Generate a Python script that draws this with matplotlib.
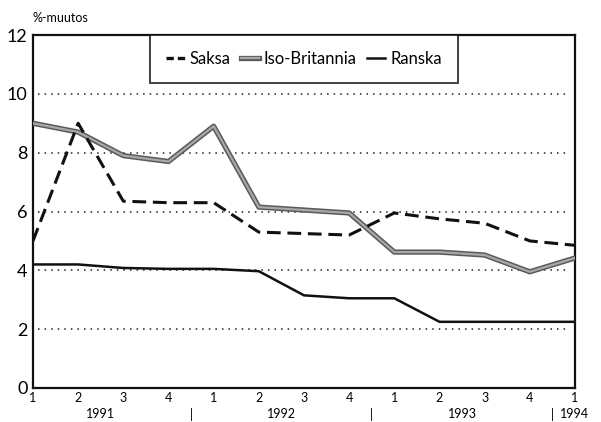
import matplotlib
matplotlib.use("Agg")
import matplotlib.pyplot as plt
import matplotlib.patheffects as pe
from matplotlib.lines import Line2D

quarters = ["1", "2", "3", "4", "1", "2", "3", "4", "1", "2", "3", "4", "1"]
years = ["1991", "1992", "1993", "1994"]
saksa = [5.0, 9.0, 6.35, 6.3, 6.3, 5.3, 5.25, 5.2, 5.95, 5.75, 5.6, 5.0, 4.85]
iso_britannia = [9.0, 8.7, 7.9, 7.7, 8.9, 6.15, 6.05, 5.95, 4.62, 4.62, 4.52, 3.95, 4.42]
ranska = [4.2, 4.2, 4.08, 4.05, 4.05, 3.97, 3.15, 3.05, 3.05, 2.25, 2.25, 2.25, 2.25]
labels = ["Saksa", "Iso-Britannia", "Ranska"]

plt.rcParams['font.family'] = ['Lato', 'DejaVu Sans']

fig = plt.figure(figsize=(6.01, 4.22), dpi=100)
ax = fig.add_axes([0.0549, 0.0806, 0.9018, 0.8364])

x = list(range(len(quarters)))

for yv in [2, 4, 6, 8, 10]:
    ax.plot([0.1, 11.85], [yv, yv], linestyle=(0, (1, 3.3)), color='#222222', linewidth=1.1, zorder=1)

gb_effects = [pe.Stroke(linewidth=3.8, foreground='#5a5a5a'), pe.Normal()]
ax.plot(x, ranska, color='#111111', linewidth=1.8, zorder=3)
ax.plot(x, iso_britannia, color='#a8a8a8', linewidth=1.6, zorder=4, path_effects=gb_effects)
ax.plot(x, saksa, color='#111111', linewidth=2.2, linestyle=(0, (4.5, 2.2)), zorder=5)

ax.set_xlim(0, 12)
ax.set_ylim(0, 12)
ax.set_yticks([0, 2, 4, 6, 8, 10, 12])
ax.set_yticklabels(["0", "2", "4", "6", "8", "10", "12"], fontsize=13)
ax.set_xticks(x)
ax.set_xticklabels(quarters, fontsize=9)
ax.tick_params(axis='both', length=0, pad=3)
ax.tick_params(axis='y', pad=4)
for s in ax.spines.values():
    s.set_linewidth(1.6)
    s.set_color('#111111')

# year labels
tr = ax.get_xaxis_transform()
year_pos = [1.5, 5.5, 9.5]
for xp, yr in zip(year_pos, years[:3]):
    ax.text(xp, -0.075, yr, transform=tr, ha='center', va='center', fontsize=9)
for xp in [3.5, 7.5, 11.5]:
    ax.text(xp, -0.075, "|", transform=tr, ha='center', va='center', fontsize=9)
ax.text(11.66, -0.075, years[3], transform=tr, ha='left', va='center', fontsize=9)

fig.text(0.1, 0.958, "%-muutos", fontsize=9, ha='center', va='center')

handles = [
    Line2D([], [], color='#111111', linewidth=2.4, linestyle=(0, (2.2, 1.2))),
    Line2D([], [], color='#a8a8a8', linewidth=1.6, path_effects=gb_effects),
    Line2D([], [], color='#111111', linewidth=1.8),
]
leg = ax.legend(handles, labels, loc='upper center', bbox_to_anchor=(0.5, 1.0),
                ncol=3, frameon=True, fancybox=False, fontsize=12, handlelength=1.1,
                handletextpad=0.3, columnspacing=0.6, borderpad=0.95, borderaxespad=0)
leg.get_frame().set_edgecolor('#111111')
leg.get_frame().set_linewidth(1.4)

fig.savefig("out.png", dpi=100)
